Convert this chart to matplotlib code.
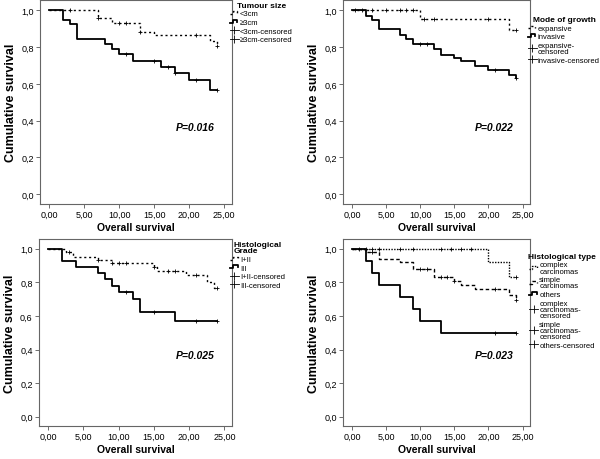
import numpy as np
import matplotlib
matplotlib.use('Agg')
import matplotlib.pyplot as plt
from matplotlib.lines import Line2D
from matplotlib.ticker import FuncFormatter
from matplotlib.legend_handler import HandlerLine2D
from matplotlib import font_manager

# Tumour size
lt3_t = [0, 7, 9, 13, 15, 23, 24]
lt3_s = [1.0, 0.957, 0.933, 0.884, 0.864, 0.833, 0.806]
lt3_c = [3, 7, 10, 11, 13, 21, 24]
ge3_t = [0, 2, 3, 4, 8, 9, 10, 12, 16, 18, 20, 23]
ge3_s = [1.0, 0.947, 0.924, 0.842, 0.815, 0.788, 0.761, 0.725, 0.694, 0.661, 0.62, 0.567]
ge3_c = [11, 15, 17, 18, 21, 24]

# Mode of growth
exp_t = [0, 10, 23]
exp_s = [1.0, 0.955, 0.896]
exp_c = [0.5, 1.5, 3, 5, 7, 8, 9, 10.5, 12, 20, 24]
inv_t = [0, 2, 3, 4, 7, 8, 9, 12, 13, 15, 16, 18, 20, 23, 24]
inv_s = [1.0, 0.969, 0.947, 0.9, 0.869, 0.845, 0.818, 0.79, 0.76, 0.742, 0.724, 0.7, 0.678, 0.65, 0.63]
inv_c = [10, 11, 21, 24]

# Histological grade
g12_t = [0, 2.5, 3.5, 7, 9, 15, 15.5, 19.5, 22.5, 23.5]
g12_s = [1.0, 0.98, 0.952, 0.93, 0.912, 0.891, 0.867, 0.845, 0.802, 0.768]
g12_c = [3, 7, 9, 10, 11, 15, 17, 18, 21, 24]
g3_t = [0, 2, 4, 7, 8, 9, 10, 12, 13, 18]
g3_s = [1.0, 0.927, 0.891, 0.855, 0.818, 0.778, 0.743, 0.703, 0.624, 0.568]
g3_c = [11, 15, 21, 24]

# Histological type
cx_t = [0, 20, 23]
cx_s = [1.0, 0.918, 0.833]
cx_c = [1, 2, 3, 4, 7, 9, 13, 14.5, 16, 17.5, 24]
sm_t = [0, 2, 4, 7, 9, 12, 15, 16, 18, 23, 24]
sm_s = [1.0, 0.98, 0.937, 0.918, 0.878, 0.833, 0.81, 0.784, 0.761, 0.725, 0.696]
sm_c = [3, 10, 11, 13, 14, 15, 21, 24]
ot_t = [0, 2, 3, 4, 7, 9, 10, 13]
ot_s = [1.0, 0.927, 0.857, 0.784, 0.712, 0.641, 0.569, 0.5]
ot_c = [21, 24]

installed = {f.name for f in font_manager.fontManager.ttflist}
narrow = 'Liberation Sans Narrow' if 'Liberation Sans Narrow' in installed else 'Liberation Sans'
plt.rcParams['font.family'] = [narrow, 'DejaVu Sans']

dotted = (0, (1.5, 2))
dense = (0, (1, 1))
dashed = (0, (2.5, 1.8))


class StepHandler(HandlerLine2D):
    # little step shaped key like the SPSS legend
    def create_artists(self, legend, orig_handle, xdescent, ydescent, width, height, fontsize, trans):
        x0 = -xdescent
        lo = -ydescent + height * 0.2
        hi = -ydescent + height * 0.8
        xs = [x0, x0 + width * 0.35, x0 + width * 0.35, x0 + width * 0.85, x0 + width * 0.85]
        ys = [lo, lo, hi, hi, lo + (hi - lo) * 0.3]
        line = Line2D(xs, ys)
        self.update_prop(line, orig_handle, legend)
        line.set_marker('None')
        line.set_transform(trans)
        return [line]


def km(ax, t, s, c, ls, lw):
    t = list(t) + [24]
    s = list(s) + [s[-1]]
    ax.step(t, s, where='post', color='black', linestyle=ls, lw=lw)
    idx = np.searchsorted(t, c, side='right') - 1
    ax.plot(c, np.array(s)[idx], '+', color='black', ms=3.5, mew=0.6)


def setup(ax, ptext):
    ax.set_xlim(-1.3, 26.1)
    ax.set_ylim(-0.055, 1.057)
    ax.set_xticks([0, 5, 10, 15, 20, 25])
    ax.set_yticks([0, 0.2, 0.4, 0.6, 0.8, 1.0])
    ax.xaxis.set_major_formatter(FuncFormatter(lambda v, p: ('%.2f' % v).replace('.', ',')))
    ax.yaxis.set_major_formatter(FuncFormatter(lambda v, p: ('%.1f' % v).replace('.', ',')))
    ax.tick_params(labelsize=6.5, length=3, width=0.6, color='#555555', pad=1.5)
    for sp in ax.spines.values():
        sp.set_color('#666666')
        sp.set_linewidth(0.8)
    ax.set_xlabel('Overall survival', fontsize=7.5, fontweight='bold', labelpad=2)
    ax.set_ylabel('Cumulative survival', fontsize=9, fontweight='bold', labelpad=3,
                  family=['Liberation Sans', 'DejaVu Sans'])
    ax.text(20.8, 0.365, ptext, fontsize=7.5, fontweight='bold', style='italic', ha='center', va='center')


def legend(ax, title, labels, styles, ytop):
    handles = []
    hmap = {}
    for st in styles:
        if st == 'cens':
            h = Line2D([], [], color='black', lw=0.6, marker='|', ms=6, mew=0.6)
        elif st == '-':
            h = Line2D([], [], color='black', lw=1.3, linestyle='-')
            hmap[h] = StepHandler()
        else:
            h = Line2D([], [], color='black', lw=1.0, linestyle=st)
            hmap[h] = StepHandler()
        handles.append(h)
    lg = ax.legend(handles, labels, title=title, loc='upper left', bbox_to_anchor=(0.985, ytop),
                   frameon=False, fontsize=5.5, title_fontsize=6, handlelength=1.15, handleheight=0.6,
                   handletextpad=0.15, labelspacing=0.2, borderpad=0.1, borderaxespad=0,
                   handler_map=hmap)
    lg.get_title().set_fontweight('bold')
    lg.get_title().set_linespacing(0.9)
    for txt in lg.get_texts():
        txt.set_linespacing(0.85)


fig = plt.figure(figsize=(6, 4.6), dpi=100)

ax1 = fig.add_axes([0.0667, 0.5543, 0.32, 0.4435])
km(ax1, lt3_t, lt3_s, lt3_c, dotted, 1.0)
km(ax1, ge3_t, ge3_s, ge3_c, '-', 1.3)
setup(ax1, 'P=0.016')
legend(ax1, 'Tumour size', ['<3cm', '≥3cm', '<3cm-censored', '≥3cm-censored'],
       [dotted, '-', 'cens', 'cens'], 0.995)

ax2 = fig.add_axes([0.5717, 0.5543, 0.3117, 0.4435])
km(ax2, exp_t, exp_s, exp_c, dotted, 1.0)
km(ax2, inv_t, inv_s, inv_c, '-', 1.3)
setup(ax2, 'P=0.022')
legend(ax2, 'Mode of growth', ['expansive', 'invasive', 'expansive-\ncensored', 'invasive-censored'],
       [dotted, '-', 'cens', 'cens'], 0.925)

ax3 = fig.add_axes([0.065, 0.0717, 0.322, 0.4065])
km(ax3, g12_t, g12_s, g12_c, dotted, 1.0)
km(ax3, g3_t, g3_s, g3_c, '-', 1.3)
setup(ax3, 'P=0.025')
legend(ax3, 'Histological\nGrade', ['I+II', 'III', 'I+II-censored', 'III-censored'],
       [dotted, '-', 'cens', 'cens'], 0.995)

ax4 = fig.add_axes([0.5717, 0.0717, 0.3117, 0.4065])
km(ax4, cx_t, cx_s, cx_c, dense, 1.0)
km(ax4, sm_t, sm_s, sm_c, dashed, 1.0)
km(ax4, ot_t, ot_s, ot_c, '-', 1.3)
setup(ax4, 'P=0.023')
legend(ax4, 'Histological type',
       ['complex\ncarcinomas', 'simple\ncarcinomas', 'others', 'complex\ncarcinomas-\ncensored',
        'simple\ncarcinomas-\ncensored', 'others-censored'],
       [dense, dashed, '-', 'cens', 'cens', 'cens'], 0.93)

plt.savefig('out.png', dpi=100)
